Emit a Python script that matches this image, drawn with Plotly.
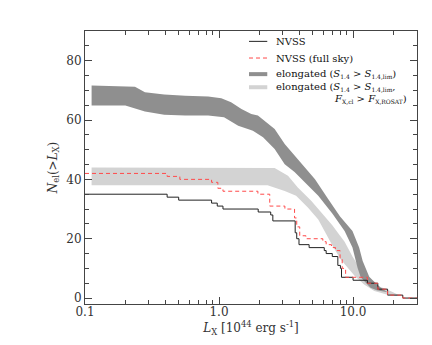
import plotly.graph_objects as go

# --- cumulative counts, NVSS (step functions, value holds to the right) ---
lx_nvss = [0.1, 0.41, 0.50, 0.88, 0.97, 1.07, 1.96, 2.43, 2.52, 3.70, 3.80, 3.95,
           4.70, 6.10, 6.30, 7.00, 7.70, 8.05, 8.20, 10.0, 12.8, 15.3, 18.1, 23.5, 30.0]
n_nvss = [35, 34, 33, 32, 31, 30, 29, 28, 26, 22, 20, 18,
          17, 16, 15, 14, 11, 10, 7, 6, 5, 3, 1, 0, 0]

lx_full = [0.1, 0.41, 0.51, 0.88, 0.98, 1.07, 1.95, 2.39, 3.10, 3.66, 3.80, 4.00,
           4.45, 5.95, 6.30, 6.90, 7.40, 8.00, 8.30, 8.80, 12.8, 15.3, 18.1, 23.5, 30.0]
n_full = [42, 41, 40, 39, 37, 36, 35, 31, 30, 27, 24, 21,
          20, 19, 18, 17, 16, 13, 10, 7, 5, 3, 1, 0, 0]

# --- elongated sources, S1.4 > S1.4,lim (band) ---
lx_el_hi = [0.112, 0.20, 0.236, 0.28, 0.39, 0.56, 0.83, 1.04, 1.23, 1.47, 1.74, 1.95,
            2.25, 2.60, 3.09, 4.10, 5.20, 6.50, 8.00, 9.90, 11.1, 11.8, 12.5, 13.2,
            14.4, 16.1, 18.1]
n_el_hi = [71.6, 71.4, 71.2, 69.4, 68.6, 68.2, 67.9, 67.3, 66.0, 63.7, 62.0, 61.5,
           59.2, 57.0, 51.9, 45.5, 40.0, 33.5, 27.5, 22.6, 17.0, 12.5, 9.5, 7.2,
           5.5, 3.5, 2.0]
lx_el_lo = [0.112, 0.20, 0.236, 0.28, 0.39, 0.56, 0.83, 1.09, 1.39, 1.64, 1.79, 2.13,
            2.60, 3.09, 3.66, 4.20, 5.50, 7.00, 8.65, 9.90, 10.5, 10.8, 11.4, 12.1,
            13.5, 15.0, 18.1]
n_el_lo = [64.9, 64.9, 64.0, 62.9, 61.8, 61.5, 61.5, 60.9, 58.1, 57.0, 56.4, 54.2,
           50.2, 45.1, 42.5, 40.0, 34.5, 28.5, 22.6, 17.0, 12.5, 10.2, 7.0, 5.7,
           3.5, 2.6, 2.0]

# --- elongated sources, also F_X,cl > F_X,ROSAT (band) ---
lx_rx_hi = [0.112, 2.60, 3.27, 3.87, 4.87, 5.90, 7.00, 8.00, 8.65, 9.90, 11.1, 13.2,
            15.6, 19.0, 21.6, 22.5]
n_rx_hi = [44.0, 43.8, 41.2, 37.3, 32.8, 28.5, 24.5, 21.0, 19.0, 14.0, 10.5, 6.3,
           4.0, 2.4, 1.2, 0.8]
lx_rx_lo = [0.112, 2.30, 3.09, 3.76, 4.60, 5.50, 7.06, 8.10, 8.65, 10.3, 12.1, 14.4,
            18.1, 21.0, 22.5]
n_rx_lo = [38.0, 38.0, 36.1, 34.5, 30.5, 26.5, 17.5, 13.0, 11.2, 7.4, 4.6, 2.4,
           1.1, 0.7, 0.8]

x_major = [0.1, 1.0, 10.0]
x_major_text = ["0.1", "1.0", "10.0"]
x_minor = [0.2, 0.3, 0.4, 0.5, 0.6, 0.7, 0.8, 0.9, 2, 3, 4, 5, 6, 7, 8, 9, 20]

FONT = "DejaVu Serif"
AXC = "#444444"
DARK = "#8f8f8f"
LIGHT = "#d3d3d3"
RED = "#ff4a4a"


def band(lx_hi, n_hi, lx_lo, n_lo, color):
    return go.Scatter(x=lx_hi + lx_lo[::-1], y=n_hi + n_lo[::-1], mode="lines",
                      fill="toself", fillcolor=color, line=dict(width=0, color=color),
                      hoverinfo="skip", showlegend=False)


def sub(t):
    return '<sub><span style="font-size:6px">' + t + "</span></sub>"


fig = go.Figure()
fig.add_trace(band(lx_rx_hi, n_rx_hi, lx_rx_lo, n_rx_lo, LIGHT))
fig.add_trace(band(lx_el_hi, n_el_hi, lx_el_lo, n_el_lo, DARK))
fig.add_trace(go.Scatter(x=lx_nvss, y=n_nvss, mode="lines", line_shape="hv",
                         line=dict(color="#222222", width=1), showlegend=False))
fig.add_trace(go.Scatter(x=lx_full, y=n_full, mode="lines", line_shape="hv",
                         line=dict(color=RED, width=1, dash="4px,3px"),
                         showlegend=False))

# hand-made legend (the bands are shown as thick bars)
sx0, sx1, tx = 0.494, 0.549, 0.569
rows = [0.962, 0.901, 0.842, 0.794]
fig.add_shape(type="line", xref="paper", yref="paper", x0=sx0, x1=sx1, y0=rows[0], y1=rows[0],
              line=dict(color="#222222", width=1))
fig.add_shape(type="line", xref="paper", yref="paper", x0=sx0, x1=sx1, y0=rows[1], y1=rows[1],
              line=dict(color=RED, width=1, dash="4px,3px"))
fig.add_shape(type="line", xref="paper", yref="paper", x0=sx0, x1=sx1, y0=rows[2], y1=rows[2],
              line=dict(color=DARK, width=4))
fig.add_shape(type="line", xref="paper", yref="paper", x0=sx0, x1=sx1, y0=rows[3], y1=rows[3],
              line=dict(color=LIGHT, width=4))

labels = [
    "NVSS",
    "NVSS (full sky)",
    "elongated (<i>S</i>" + sub("1.4") + " &gt; <i>S</i>" + sub("1.4,lim") + ")",
    "elongated (<i>S</i>" + sub("1.4") + " &gt; <i>S</i>" + sub("1.4,lim") + ",",
]
for yy, txt in zip(rows, labels):
    fig.add_annotation(xref="paper", yref="paper", x=tx, y=yy, text=txt, showarrow=False,
                       xanchor="left", yanchor="middle", font=dict(family=FONT, size=10, color="#111"))
fig.add_annotation(xref="paper", yref="paper", x=0.976, y=0.752,
                   text="<i>F</i>" + sub("X,cl") + " &gt; <i>F</i>" + sub("X,ROSAT") + ")",
                   showarrow=False, xanchor="right", yanchor="middle",
                   font=dict(family=FONT, size=10, color="#111"))

fig.update_layout(
    width=432, height=345,
    margin=dict(l=77, r=23, t=23, b=49),
    plot_bgcolor="white", paper_bgcolor="white",
    font=dict(family=FONT, size=12, color="#333"),
    showlegend=False,
)
fig.update_xaxes(
    type="log", range=[-1, 1.4771],
    tickmode="array", tickvals=x_major, ticktext=x_major_text,
    ticks="inside", ticklen=7, tickcolor=AXC, tickwidth=1, ticklabelstandoff=-3,
    minor=dict(tickmode="array", tickvals=x_minor, ticks="inside", ticklen=4, tickcolor=AXC),
    showline=True, linecolor=AXC, linewidth=1, mirror="ticks",
    showgrid=False, zeroline=False,
    title=dict(text="<i>L</i><sub>X</sub> [10<sup>44</sup> erg s<sup>-1</sup>]", standoff=0,
               font=dict(size=12)),
)
fig.update_yaxes(
    range=[-2, 90], tick0=0, dtick=20,
    ticks="inside", ticklen=7, tickcolor=AXC, tickwidth=1,
    minor=dict(tick0=0, dtick=5, ticks="inside", ticklen=4, tickcolor=AXC),
    showline=True, linecolor=AXC, linewidth=1, mirror="ticks",
    showgrid=False, zeroline=False,
    title=dict(text="<i>N</i><sub>el</sub>(&gt;<i>L</i><sub>X</sub>)", standoff=6,
               font=dict(size=12)),
)

fig.write_html("out.html")
